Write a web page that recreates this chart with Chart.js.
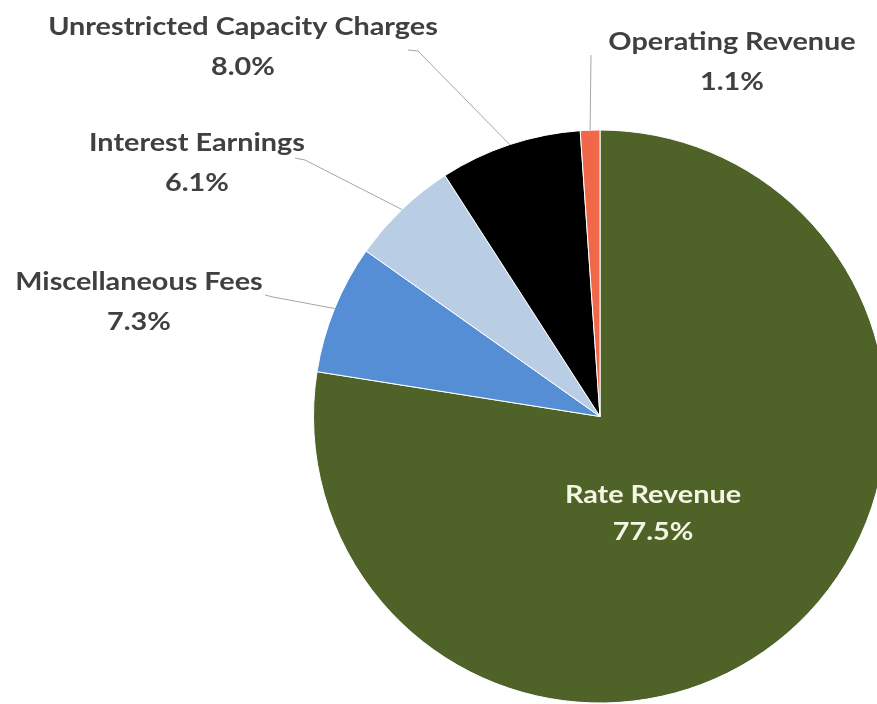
<!DOCTYPE html>
<html>
<head>
<meta charset="utf-8">
<script src="https://cdn.jsdelivr.net/npm/chart.js@4"></script>
<style>
    html, body { margin: 0; padding: 0; background: #fff; overflow: hidden; width: 877px; height: 704px; }
    #wrap { position: absolute; left: 0; top: 0; width: 1200px; height: 833px; }
</style>
</head>
<body>
<div id="wrap"><canvas id="pieChart"></canvas></div>
<script>
// dados do gráfico (sentido horário a partir do topo)
const categorias = ['Rate Revenue', 'Miscellaneous Fees', 'Interest Earnings', 'Unrestricted Capacity Charges', 'Operating Revenue'];
const percentuais = [77.5, 7.3, 6.1, 8.0, 1.1];
const cores = ['#4F6228', '#558ED5', '#B9CDE5', '#000000', '#F0674A'];

// posição dos rótulos (centro da linha do nome) e ponto final das linhas-guia
const posRotulos = [[653, 495], [139, 282], [197, 143], [243, 27], [732, 42]];
const linhasGuia = [null, [[273, 297], [265, 295]], [[305, 160], [295, 158]], [[418, 51], [408, 50]], [[591, 55]]];

const formatPercent = (v) => `${v.toFixed(1)}%`;

// texto um pouco esticado na horizontal, como no original
const escreve = (ctx, texto, x, y) => {
    ctx.save();
    ctx.translate(x, y);
    ctx.scale(1.2, 1);
    ctx.fillText(texto, 0, 0);
    ctx.restore();
};

const rotulosPlugin = {
    id: 'rotulos',
    afterDraw(chart) {
        const ctx = chart.ctx;
        const meta = chart.getDatasetMeta(0);
        ctx.save();

        meta.data.forEach((arc, i) => {
            const { x, y, startAngle, endAngle, outerRadius } = arc.getProps(['x', 'y', 'startAngle', 'endAngle', 'outerRadius'], true);
            const meio = (startAngle + endAngle) / 2;

            // linha-guia do arco até o rótulo
            if (linhasGuia[i]) {
                ctx.beginPath();
                ctx.moveTo(x + Math.cos(meio) * outerRadius, y + Math.sin(meio) * outerRadius);
                linhasGuia[i].forEach(p => ctx.lineTo(p[0], p[1]));
                ctx.strokeStyle = '#A6A6A6';
                ctx.lineWidth = 1;
                ctx.stroke();
            }

            const [lx, ly] = posRotulos[i];
            ctx.font = 'bold 24px Lato';
            ctx.textAlign = 'center';
            ctx.textBaseline = 'middle';
            ctx.fillStyle = i === 0 ? '#F4F6E4' : '#404040';
            escreve(ctx, categorias[i], lx, ly);
            escreve(ctx, formatPercent(percentuais[i]), lx, ly + (i === 0 ? 37 : 40));
        });

        ctx.restore();
    }
};

const ctx = document.getElementById('pieChart').getContext('2d');
new Chart(ctx, {
    type: 'pie',
    data: {
        labels: categorias,
        datasets: [{
            data: percentuais,
            backgroundColor: cores,
            borderColor: '#FFFFFF',
            borderWidth: 1
        }]
    },
    options: {
        responsive: true,
        maintainAspectRatio: false,
        animation: false,
        layout: {
            padding: { left: 313, right: 313, top: 129.5, bottom: 129.5 }
        },
        plugins: {
            legend: { display: false },
            tooltip: { enabled: false }
        }
    },
    plugins: [rotulosPlugin]
});
</script>
</body>
</html>
